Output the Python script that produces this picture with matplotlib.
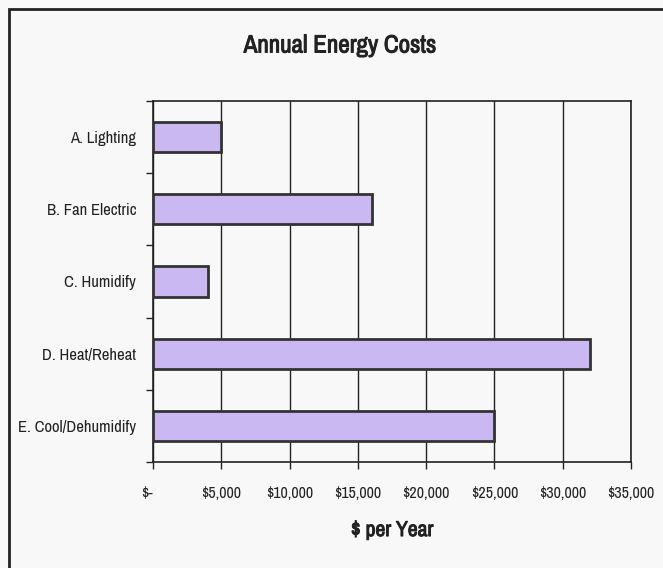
import matplotlib.pyplot as plt
import matplotlib.patheffects as pe
from matplotlib import font_manager
from matplotlib.patches import Rectangle
from matplotlib.ticker import FixedLocator, FuncFormatter

# annual costs by end use, $ per year
categories = ["A. Lighting", "B. Fan Electric", "C. Humidify", "D. Heat/Reheat", "E. Cool/Dehumidify"]
costs = [5000, 16000, 4000, 32000, 25000]
xticks = [0, 5000, 10000, 15000, 20000, 25000, 30000, 35000]

# prefer a narrow face if one is around
names = sorted({f.name for f in font_manager.fontManager.ttflist})
narrow = [n for n in names if "Narrow" in n or "Condensed" in n]
plt.rcParams['font.family'] = narrow[:1] + ['DejaVu Sans']

W, H = 663, 568
fig = plt.figure(figsize=(W / 100, H / 100), dpi=100, facecolor="#f8f8f8")

# outer chart border
fig.patches.append(Rectangle((9 / W, -0.01), 1.2, (H - 9) / H + 0.01, transform=fig.transFigure,
                             fill=False, edgecolor="#222222", linewidth=2.0))

ax = fig.add_axes([153 / W, (H - 462) / H, (631 - 153) / W, (462 - 101) / H])
ax.set_facecolor("#f8f8f8")

ypos = list(range(len(categories)))
ax.barh(ypos, costs, height=0.42, color="#c9b8f2", edgecolor="#333333", linewidth=2.0, zorder=3)

ax.set_xlim(0, 35000)
ax.set_ylim(len(categories) - 0.5, -0.5)
ax.xaxis.set_major_locator(FixedLocator(xticks))
ax.xaxis.set_major_formatter(FuncFormatter(lambda v, p: "$-" if v == 0 else f"${v:,.0f}"))
ax.grid(axis="x", color="#222222", linewidth=1.0, zorder=1)

ax.set_yticks(ypos)
ax.set_yticklabels(categories)
ax.set_yticks([i + 0.5 for i in range(-1, len(categories))], minor=True)
ax.tick_params(axis="y", which="major", length=0, pad=12, labelsize=12 if narrow else 9, labelcolor="#222222")
ax.tick_params(axis="y", which="minor", length=5, width=1, color="#222222")
ax.tick_params(axis="x", length=5, width=1, color="#222222", pad=12, labelsize=11.5 if narrow else 8.5,
               labelcolor="#222222")

for s in ax.spines.values():
    s.set_color("#222222")
    s.set_linewidth(1.2)

# "$-" sits left of its tick, accounting style
for lbl in ax.get_xticklabels():
    if lbl.get_text() == "$-":
        lbl.set_horizontalalignment("right")

# the narrow face has no bold, so thicken with a light stroke
heavy = [pe.withStroke(linewidth=0.7, foreground="#222222")]
ax.set_xlabel("$ per Year", fontsize=15.5 if narrow else 12, fontweight="bold", labelpad=14,
              color="#222222", path_effects=heavy)
fig.text(340 / W, 1 - 45 / H, "Annual Energy Costs", ha="center", va="center",
         fontsize=18 if narrow else 13, fontweight="bold", color="#222222", path_effects=heavy)

fig.savefig("out.png", dpi=100, facecolor=fig.get_facecolor())
